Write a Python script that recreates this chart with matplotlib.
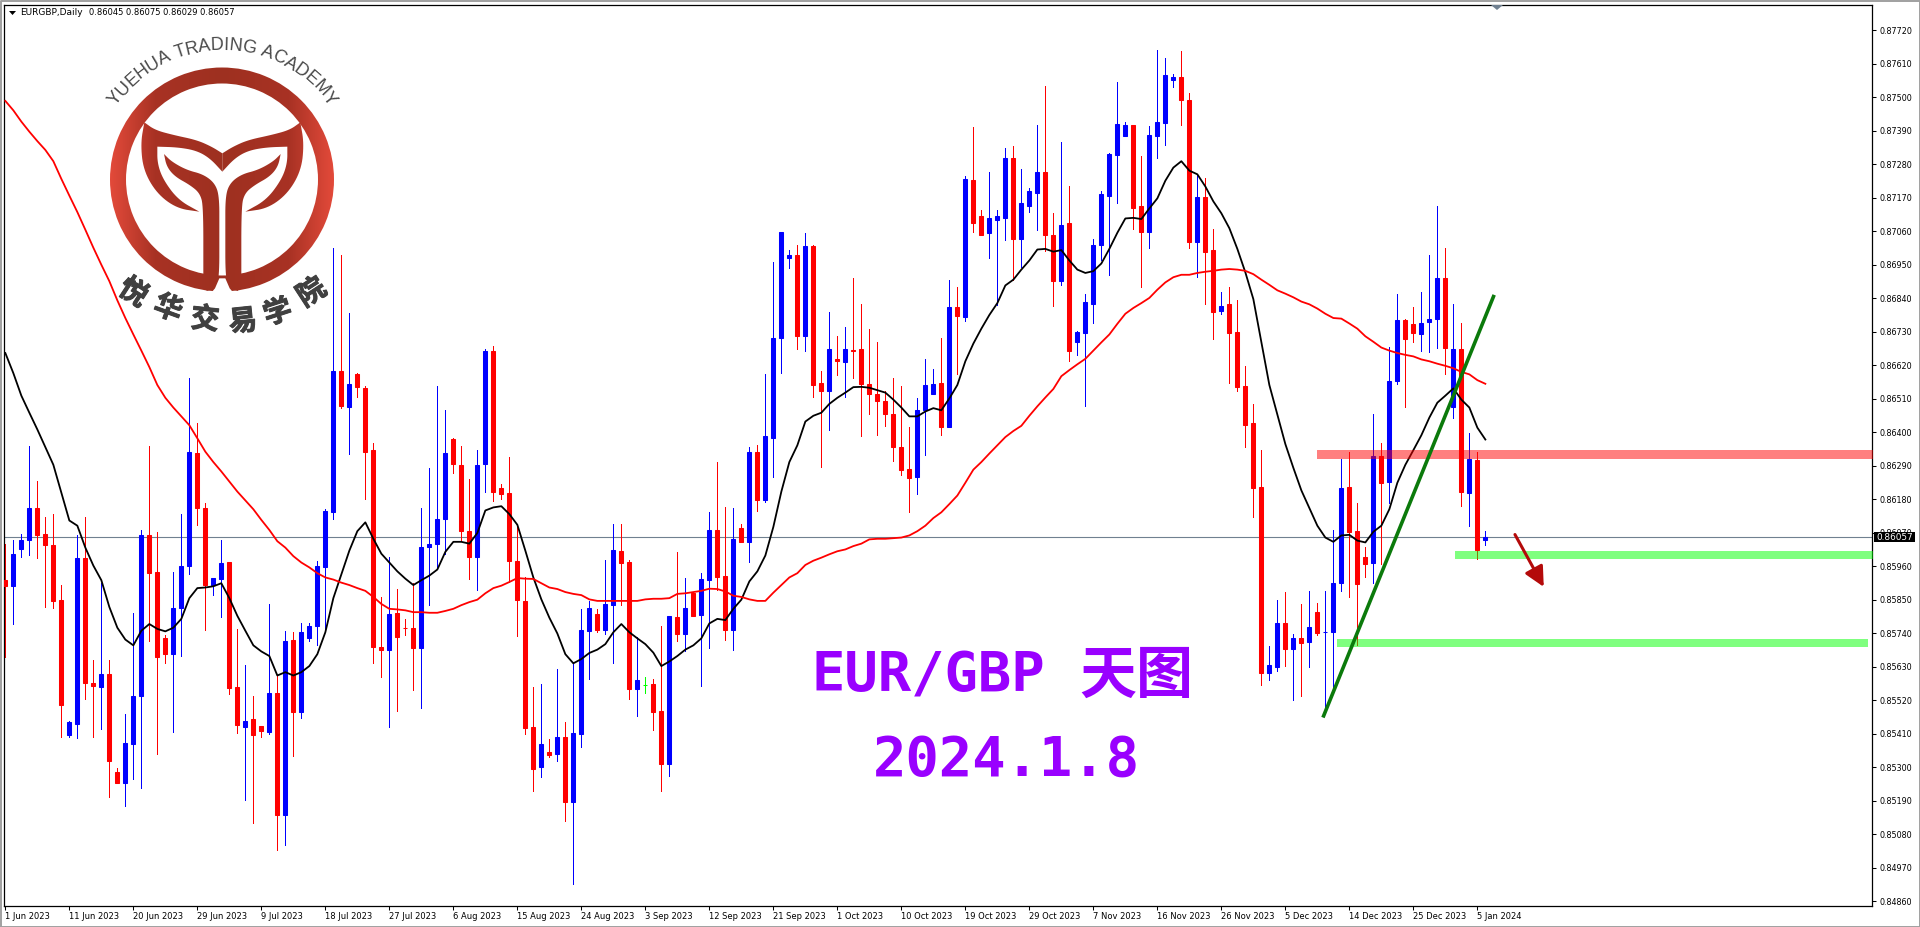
import numpy as np
import matplotlib
matplotlib.use('Agg')
import matplotlib.pyplot as plt
import matplotlib.patheffects as pe
from matplotlib.colors import LinearSegmentedColormap
from matplotlib.patches import Polygon, Wedge

# prices are in points (0.00001)
opens = [85914,85894,86017,86046,86151,86065,86030,85850,85404,85443,
    85988,85577,85562,85607,85284,85249,85375,85533,86063,85941,
    85725,85671,85822,85960,86332,86151,85898,85918,85974,85564,
    85433,85459,85435,85416,85542,85142,85717,85482,85725,85764,
    85956,86137,86602,86483,86590,86546,86343,85694,85686,85807,
    85758,85756,85690,86023,86032,86114,86378,86293,86075,85990,
    86295,86668,86217,86201,85976,85846,85432,85299,85350,85342,
    85398,85187,85410,85746,85803,85752,85834,86011,85974,85558,
    85570,85573,85484,85311,85793,85737,85871,85799,85916,86079,
    85927,85752,86087,86040,86336,86178,86382,86711,86971,86981,
    86715,87010,86563,86536,86641,86631,86670,86672,86559,86526,
    86501,86460,86353,86279,86254,86472,86526,86563,86417,86810,
    86779,87228,87110,87053,87096,87105,87302,87035,87142,87187,
    87253,87049,86896,87086,86697,86726,86822,87014,87177,87310,
    87372,87409,87142,87059,87372,87415,87558,87566,87490,87026,
    87174,86997,86798,86820,86730,86553,86429,86221,85610,85630,
    85774,85688,85723,85711,85809,85743,85745,85906,86221,86077,
    85991,85972,86322,86236,86567,86767,86756,86724,86761,86773,
    86905,86483,86674,86201,86310,86045]
closes = [85894,86001,86046,86151,86063,86028,85846,85505,85447,85988,
    85577,85566,85607,85319,85249,85379,85533,86063,85939,85661,
    85671,85822,85960,86336,86151,85898,85921,85970,85560,85437,
    85453,85404,85418,85542,85142,85713,85480,85745,85764,85960,
    86141,86602,86487,86559,86548,86336,85694,85686,85803,85729,
    85756,85690,86023,86034,86116,86332,86295,86075,85990,86293,
    86668,86205,86196,85976,85848,85430,85295,85375,85340,85398,
    85187,85412,85750,85822,85752,85836,86013,85972,85558,85585,
    85570,85480,85309,85795,85737,85822,85797,85918,86079,85925,
    85752,86050,86040,86336,86178,86388,86711,87057,86983,86715,
    87010,86555,86536,86672,86633,86674,86668,86559,86526,86501,
    86460,86351,86277,86250,86474,86555,86559,86417,86810,86783,
    87230,87086,87049,87102,87110,87302,87035,87152,87191,87253,
    87047,86897,87082,86668,86730,86826,87014,87181,87314,87411,
    87409,87135,87057,87376,87420,87572,87566,87490,87024,87174,
    86993,86796,86816,86726,86549,86425,86217,85610,85636,85774,
    85688,85723,85708,85760,85739,85745,85906,86217,86071,85902,
    85968,86322,86234,86569,86767,86707,86726,86759,86773,86905,
    86678,86674,86203,86312,86013,86057]
highs = [86034,86046,86065,86355,86240,86122,86131,85898,85451,86061,
    86120,85651,85906,85651,85297,85474,85807,86079,86355,86073,
    85735,85941,86130,86577,86429,86166,85921,86046,85974,85754,
    85636,85533,85435,85836,85603,85746,85745,85774,85772,85978,
    86147,87006,86981,86792,86594,86553,86363,85859,85991,85885,
    85787,85904,86151,86283,86553,86474,86382,86355,86246,86343,
    86672,86684,86231,86320,86089,85923,85564,85573,85393,85622,
    85447,85645,85820,85846,85820,85980,86098,86098,85980,85729,
    85597,85591,85762,85797,86007,85921,85875,85937,86139,86301,
    86155,86151,86098,86351,86359,86592,86958,87059,86997,87016,
    87053,87016,86602,86796,86715,86744,86907,86820,86740,86695,
    86536,86577,86553,86417,86513,86641,86606,86711,86901,86878,
    87240,87401,87129,87253,87129,87333,87339,87263,87201,87409,
    87537,87119,87352,87210,86734,86855,87034,87191,87317,87549,
    87420,87409,87306,87405,87654,87628,87578,87652,87514,87249,
    87236,87067,86859,86878,86833,86619,86491,86343,85698,85850,
    85875,85737,85836,85879,85840,85879,86079,86312,86336,86166,
    86023,86460,86363,86680,86853,86773,86812,86859,86983,87144,
    87004,86820,86758,86396,86336,86075]
lows = [85661,85770,85991,85997,85988,85826,85822,85398,85398,85395,
    85523,85398,85426,85202,85249,85171,85260,85231,85713,85342,
    85641,85416,85665,85933,86096,85750,85867,85793,85540,85412,
    85192,85117,85400,85408,85027,85043,85336,85461,85713,85700,
    85754,86116,86481,86330,86516,86182,85641,85597,85432,85484,
    85733,85554,85494,85832,85953,85999,86267,86046,85918,85883,
    86205,86174,86180,85908,85731,85410,85223,85268,85334,85319,
    85122,84916,85365,85589,85745,85737,85641,85832,85523,85468,
    85542,85422,85223,85270,85715,85680,85797,85566,85692,85883,
    85717,85684,86038,85974,86141,86170,86254,86596,86938,86674,
    86668,86516,86287,86408,86588,86516,86579,86386,86460,86392,
    86421,86306,86258,86139,86198,86326,86526,86392,86417,86592,
    86765,87057,87049,86971,86818,87032,86899,86944,87123,87063,
    86995,86816,86884,86635,86652,86487,86759,86964,86915,87154,
    87372,87067,86876,87006,87302,87343,87535,87409,87006,86909,
    86822,86705,86787,86563,86534,86353,86122,85570,85585,85616,
    85632,85521,85533,85628,85735,85486,85564,85879,85859,85700,
    85925,85904,85968,86168,86559,86483,86695,86668,86662,86678,
    86590,86448,86159,86091,85982,86029]

fast_ma = [86660,86594,86520,86464,86409,86351,86293,86201,86110,86093,
    86021,85962,85914,85826,85758,85719,85700,85748,85770,85754,
    85746,85758,85787,85855,85888,85890,85894,85904,85855,85797,
    85748,85700,85680,85665,85601,85612,85601,85612,85632,85671,
    85743,85855,85933,86011,86075,86104,86050,86001,85972,85943,
    85919,85898,85914,85929,85949,86007,86040,86040,86034,86069,
    86143,86153,86157,86131,86096,86011,85923,85851,85791,85739,
    85671,85641,85655,85675,85686,85704,85743,85770,85743,85723,
    85704,85676,85632,85647,85665,85686,85700,85723,85772,85787,
    85783,85820,85850,85910,85943,85995,86089,86205,86302,86357,
    86435,86454,86464,86493,86513,86530,86548,86549,86546,86538,
    86530,86507,86481,86452,86452,86468,86479,86472,86511,86555,
    86633,86691,86740,86785,86824,86882,86901,86934,86964,87000,
    87002,86993,86998,86964,86934,86923,86929,86954,87002,87055,
    87102,87104,87100,87135,87168,87226,87269,87290,87259,87247,
    87207,87158,87119,87070,87002,86925,86837,86695,86555,86458,
    86361,86283,86209,86151,86093,86054,86040,86061,86063,86044,
    86038,86073,86093,86147,86234,86293,86341,86390,86448,86497,
    86520,86544,86507,86481,86415,86376]
slow_ma = [87488,87457,87420,87387,87356,87327,87290,87232,87177,87123,
    87065,87006,86950,86896,86833,86775,86721,86668,86614,86555,
    86513,86481,86452,86423,86380,86336,86302,86271,86238,86205,
    86176,86147,86112,86079,86042,86021,85993,85972,85956,85937,
    85923,85916,85906,85898,85888,85879,85859,85836,85820,85818,
    85815,85809,85809,85807,85807,85813,85820,85832,85842,85850,
    85871,85888,85896,85908,85921,85919,85918,85904,85890,85885,
    85875,85869,85865,85851,85846,85846,85846,85846,85846,85846,
    85851,85853,85853,85855,85869,85871,85875,85879,85886,85885,
    85877,85863,85859,85851,85846,85846,85873,85898,85923,85937,
    85964,85978,85988,85999,86009,86015,86026,86034,86048,86050,
    86050,86052,86054,86061,86075,86093,86118,86137,86164,86192,
    86234,86277,86302,86330,86357,86384,86404,86421,86454,86485,
    86514,86542,86584,86604,86623,86641,86668,86695,86721,86756,
    86789,86808,86824,86841,86868,86892,86909,86917,86917,86923,
    86927,86930,86934,86936,86934,86930,86919,86901,86884,86866,
    86855,86843,86829,86820,86806,86789,86775,86773,86757,86740,
    86715,86697,86678,86668,86660,86654,86649,86639,86633,86625,
    86618,86610,86598,86590,86571,86559]

date_labels = ['1 Jun 2023', '11 Jun 2023', '20 Jun 2023', '29 Jun 2023', '9 Jul 2023',
    '18 Jul 2023', '27 Jul 2023', '6 Aug 2023', '15 Aug 2023', '24 Aug 2023',
    '3 Sep 2023', '12 Sep 2023', '21 Sep 2023', '1 Oct 2023', '10 Oct 2023',
    '19 Oct 2023', '29 Oct 2023', '7 Nov 2023', '16 Nov 2023', '26 Nov 2023',
    '5 Dec 2023', '14 Dec 2023', '25 Dec 2023', '5 Jan 2024']
price_ticks = list(range(84860, 87721, 110))
last_price = 86057

# drawn objects: (start index, end index, low, high)
resistance_band = (164.0, 233.4, 86312, 86343)
support_band_1 = (181.2, 233.4, 85982, 86011)
support_band_2 = (166.5, 232.8, 85694, 85721)
trend_x = [164.7, 186.1]
trend_y = [85463, 86851]
arrow_x = [188.7, 192.3]
arrow_y = [86064, 85892]

o = np.array(opens) / 1e5
c = np.array(closes) / 1e5
h = np.array(highs) / 1e5
l = np.array(lows) / 1e5
x = np.arange(len(o))
colors = np.where(c > o, '#0000ff', np.where(c < o, '#ff0000', '#00ff00'))

fig = plt.figure(figsize=(19.2, 9.27), dpi=100, facecolor='white')
W, H = 1920, 927
ax = fig.add_axes([4.3 / W, (H - 906) / H, (1872 - 4.3) / W, 901 / H])
ax.set_xlim(-0.13, 233.33)
ax.set_ylim(0.84844, 0.87803)

# chart
ax.axhline(last_price / 1e5, color='#708090', lw=0.8, zorder=1)
ax.vlines(x, l, h, colors=colors, lw=0.6, zorder=2, antialiased=False)
ax.bar(x, np.maximum(np.abs(c - o), 1e-6), bottom=np.minimum(o, c), width=0.5,
       color=colors, edgecolor=colors, linewidth=0.75, zorder=3)
ax.plot(x, np.array(fast_ma) / 1e5, color='black', lw=1.3, zorder=4)
ax.plot(x, np.array(slow_ma) / 1e5, color='#ff0000', lw=1.3, zorder=4)

for band, col in [(resistance_band, '#ff0000'), (support_band_1, '#00ff00'), (support_band_2, '#00ff00')]:
    ax.fill_between(band[:2], band[2] / 1e5, band[3] / 1e5, color=col, alpha=0.5, lw=0, zorder=5)
ax.plot(trend_x, np.array(trend_y) / 1e5, color='#0b7a0b', lw=2.6, zorder=6, solid_capstyle='butt')
ax.annotate('', xy=(arrow_x[1], arrow_y[1] / 1e5), xytext=(arrow_x[0], arrow_y[0] / 1e5),
            arrowprops=dict(arrowstyle='-|>,head_length=0.8,head_width=0.4', color='#b40a0a',
                            lw=2.2, mutation_scale=15, shrinkA=0, shrinkB=0), zorder=6)

ax.yaxis.tick_right()
ax.set_yticks(np.array(price_ticks) / 1e5, [f'{p / 1e5:.5f}' for p in price_ticks])
ax.set_xticks(x[::8][:len(date_labels)], date_labels, ha='left')
ax.tick_params(axis='y', length=3, width=0.75, labelsize=5.8, pad=2.5, colors='black')
ax.tick_params(axis='x', length=3, width=0.75, labelsize=6, pad=1.5, colors='black')
for s in ax.spines.values():
    s.set_linewidth(0.9)
    s.set_color('black')

# overlay in pixel coordinates: labels and logo
ov = fig.add_axes([0, 0, 1, 1], facecolor='none')
ov.axis('off')

ov.add_patch(Polygon([(1874, 532), (1915, 532), (1915, 542), (1874, 542)], color='black', lw=0, zorder=9))
ov.text(1894.5, 537, f'{last_price / 1e5:.5f}', color='white', fontsize=6.4, ha='center', va='center', zorder=10)
ov.add_patch(Polygon([(9, 11), (16, 11), (12.5, 15)], color='black', lw=0))
ov.text(20, 12.5, 'EURGBP,Daily', fontsize=6.5, va='center', color='black')
ov.text(89, 12.5, '0.86045 0.86075 0.86029 0.86057', fontsize=6, va='center', color='black')
ov.add_patch(Polygon([(1491, 5), (1503, 5), (1497, 10)], color='#708090', lw=0))

# window frame
ov.plot([0.5, 1919.5, 1919.5, 0.5, 0.5], [926.5, 926.5, 0.5, 0.5, 926.5], color='#a0a0a0', lw=1.4)

# headline
purple = '#9900ff'
ov.text(811, 676, 'EUR/GBP', family='DejaVu Sans Mono', weight='bold', fontsize=40,
        color=purple, va='center', ha='left')
ov.text(1136, 676, '天图', family='Noto Sans CJK SC', weight='bold', fontsize=41,
        color=purple, va='center', ha='center')
ov.text(1006, 760, '2024.1.8', family='DejaVu Sans Mono', weight='bold', fontsize=40,
        color=purple, va='center', ha='center')

# logo, outlines measured in a 3x crop starting at pixel (100, 30)
def smooth(pts, rounds=3):
    pts = np.array(pts, dtype=float)
    for _ in range(rounds):
        q = 0.75 * pts[:-1] + 0.25 * pts[1:]
        r = 0.25 * pts[:-1] + 0.75 * pts[1:]
        mid = np.empty((2 * len(q), 2))
        mid[0::2] = q
        mid[1::2] = r
        pts = np.vstack([pts[:1], mid, pts[-1:]])
    return pts

def logo_px(segments, mirror=False):
    pts = np.vstack([smooth(seg) for seg in segments])
    if mirror:
        pts[:, 0] = 734 - pts[:, 0]
    return np.column_stack([100 + pts[:, 0] / 3, 30 + pts[:, 1] / 3])

wing = [[(133,277),(165,300),(220,315),(290,330),(335,350),(367,370)],
    [(367,425),(330,385),(290,362),(235,352),(172,350)],
    [(172,350),(172,400),(190,450),(235,510),(298,545)],
    [(298,545),(230,535),(170,490),(130,420),(122,340),(133,277)]]
stem = [[(192,372),(215,395),(260,420),(310,433),(345,460),(358,500),(358,600),(358,745),(345,775),(320,783)],
    [(310,733),(310,530),(300,490),(270,465),(225,440),(200,410),(192,372)]]
ring_gap = [(358,745),(345,775),(328,795),(406,795),(389,775),(376,745)]

grad = LinearSegmentedColormap.from_list('logo', [(0, '#9e3020'), (0.6, '#a83224'), (1, '#e34a3a')])
logo_shapes = [Wedge((222, 179.5), 112, 0, 360, width=16)]
for segs in (wing, stem):
    logo_shapes.append(Polygon(logo_px(segs)))
    logo_shapes.append(Polygon(logo_px(segs, mirror=True)))
for shape in logo_shapes:
    shape.set(fill=False, lw=0)
    ov.add_patch(shape)
    im = ov.imshow(np.abs(np.linspace(-1, 1, 256))[None, :], cmap=grad, vmin=0, vmax=1,
                   extent=(110, 334, 292, 67), aspect='auto', zorder=3)
    im.set_clip_path(shape)
gap = np.array(ring_gap, dtype=float)
ov.add_patch(Polygon(np.column_stack([100 + gap[:, 0] / 3, 30 + gap[:, 1] / 3]), color='white', lw=0, zorder=3.5))

# lettering along the arc
arc_text = 'YUEHUA TRADING ACADEMY'
em = {'Y': .667, 'U': .722, 'E': .667, 'H': .722, 'A': .667, ' ': .278, 'T': .611, 'R': .722,
      'D': .722, 'I': .278, 'N': .722, 'G': .778, 'C': .722, 'M': .833}
widths = np.array([em[ch] for ch in arc_text])
edges = np.concatenate([[0], np.cumsum(widths)])
mids = (edges[:-1] + edges[1:]) / 2 / edges[-1]
for ch, m in zip(arc_text, mids):
    ang = np.radians(-55.6 + 111.2 * m)
    ov.text(222.3 + 134 * np.sin(ang), 179.5 - 134 * np.cos(ang), ch, family='Liberation Sans', fontsize=13,
            color='#4a4a4a', ha='center', va='center', rotation=-np.degrees(ang), rotation_mode='anchor', zorder=4)

cn_chars = ['悦', '华', '交', '易', '学', '院']
cn_x = [133, 168, 205, 243, 278, 312]
cn_y = [293, 309, 320, 322, 313, 293]
cn_rot = [-33, -20, -6, 6, 18, 33]
for ch, cx, cy, r in zip(cn_chars, cn_x, cn_y, cn_rot):
    ov.text(cx, cy, ch, family='Noto Sans CJK SC', weight='bold', fontsize=20.5, color='#404040',
            ha='center', va='center', rotation=r, rotation_mode='anchor', zorder=4,
            path_effects=[pe.withStroke(linewidth=0.7, foreground='#404040')])

ov.set_xlim(0, W)
ov.set_ylim(H, 0)

fig.savefig('out.png', dpi=100)
